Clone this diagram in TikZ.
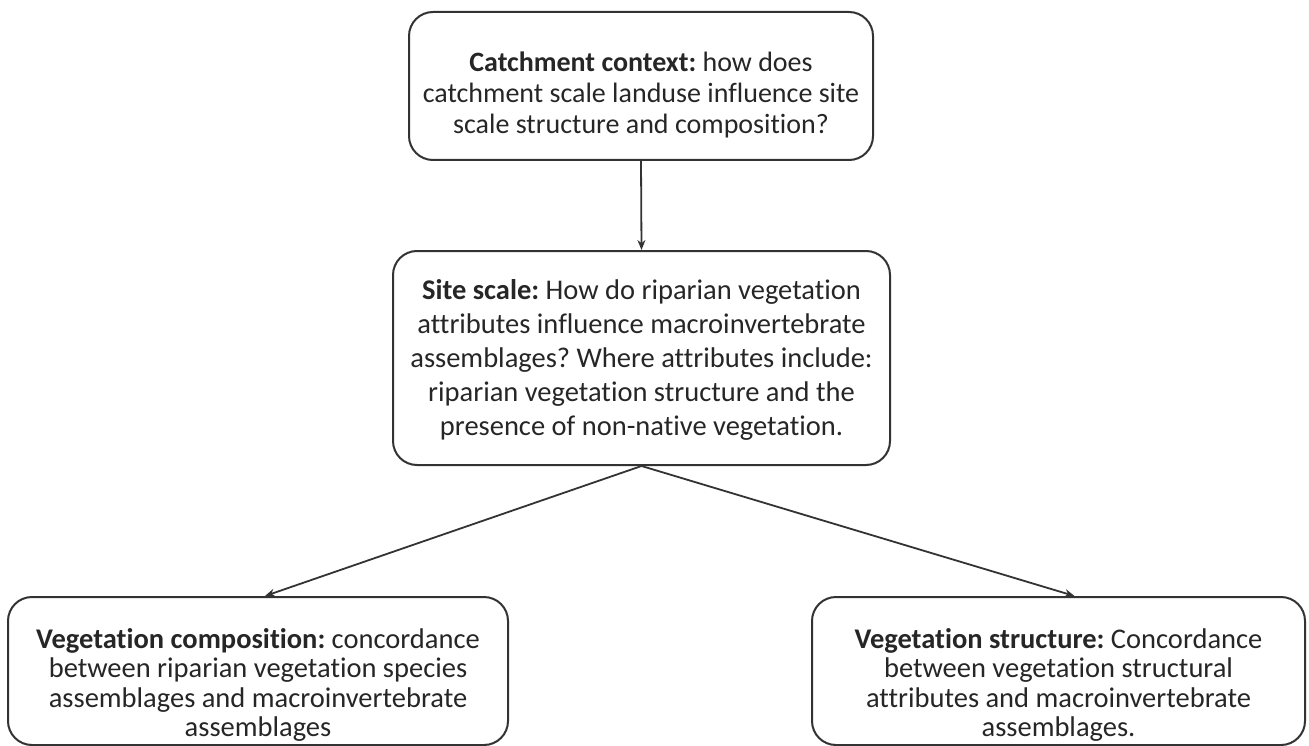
\documentclass[tikz,border=0pt]{standalone}
\usepackage{fontspec}
\setmainfont{Carlito}[Ligatures=NoCommon]
\usetikzlibrary{arrows.meta,calc}
\definecolor{txt}{HTML}{262626}
\definecolor{edge}{HTML}{333333}
\frenchspacing
\begin{document}
\begin{tikzpicture}[x=1pt,y=-1pt,
  box/.style={draw=edge,line width=2pt,rounded corners=24pt,inner sep=0pt},
  lbl/.style={align=center,text=txt,inner sep=0pt},
  arr/.style={draw=edge,line width=1.8pt,-{Stealth[length=10pt,width=8pt]}}]
\useasboundingbox (0,0) rectangle (1309,746);
\node[box,minimum width=464pt,minimum height=148pt] (top) at (641,86) {};
\node[lbl,font=\fontsize{28}{31}\selectfont] (topt) at ($(top.center)+(0,8.5)$)
  {\textbf{Catchment context:} how does\\catchment scale landuse influence site\\scale structure and composition?};
\node[box,minimum width=497pt,minimum height=214pt] (mid) at (641.5,358) {};
\node[lbl,font=\fontsize{28.5}{34}\selectfont] (midt) at ($(mid.center)+(0,2)$)
  {\textbf{Site scale:} How do riparian vegetation\\attributes influence macroinvertebrate\\assemblages? Where attributes include:\\riparian vegetation structure and the\\presence of non-native vegetation.};
\node[box,minimum width=500pt,minimum height=148pt] (bl) at (258,671) {};
\node[lbl,font=\fontsize{28.5}{29.5}\selectfont] (blt) at ($(bl.center)+(0,14)$)
  {\textbf{Vegetation composition:} concordance\\between riparian vegetation species\\assemblages and macroinvertebrate\\assemblages};
\node[box,minimum width=493pt,minimum height=148pt] (br) at (1058.5,671) {};
\node[lbl,font=\fontsize{28.5}{29.5}\selectfont] (brt) at ($(br.center)+(0,14)$)
  {\textbf{Vegetation structure:} Concordance\\between vegetation structural\\attributes and macroinvertebrate\\assemblages.};
\draw[arr] (top.south) -- (mid.north);
\draw[arr] (mid.south) -- ($(bl.north)+(7,0)$);
\draw[arr] (mid.south) -- ($(br.north)+(16,0)$);
\end{tikzpicture}
\end{document}
